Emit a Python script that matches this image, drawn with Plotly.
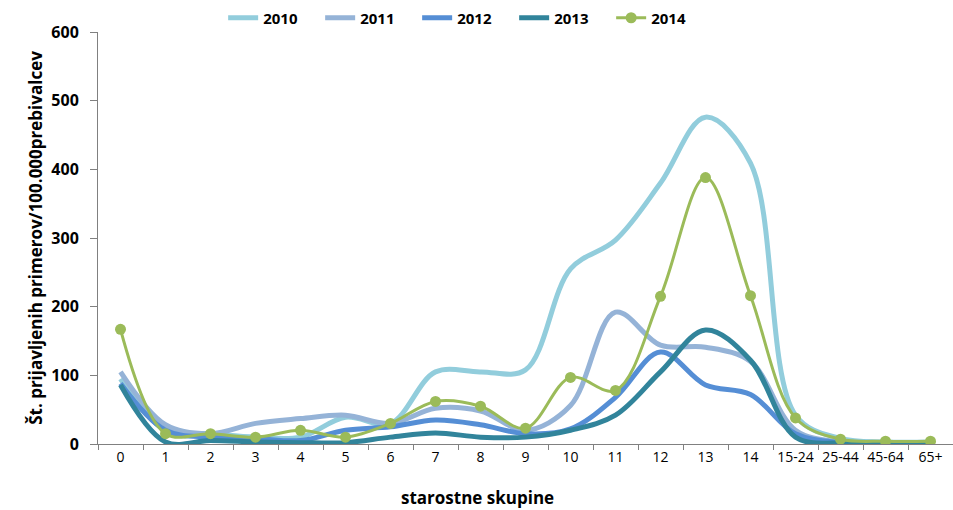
import plotly.graph_objects as go

AGE_GROUPS = ["0", "1", "2", "3", "4", "5", "6", "7", "8", "9", "10", "11", "12",
              "13", "14", "15-24", "25-44", "45-64", "65+"]

Y2010 = [95, 20, 15, 10, 10, 39, 30, 105, 105, 108, 255, 297, 380, 476, 409, 42, 8, 3, 3]
Y2011 = [105, 28, 15, 30, 37, 42, 30, 52, 48, 20, 56, 192, 144, 141, 120, 20, 3, 2, 2]
Y2012 = [88, 20, 10, 8, 5, 20, 25, 35, 28, 15, 22, 68, 134, 86, 72, 15, 2, 1, 1]
Y2013 = [86, 3, 5, 3, 2, 2, 10, 16, 10, 10, 20, 42, 105, 166, 122, 10, 1, 0, 0]
Y2014 = [167, 15, 15, 10, 20, 10, 30, 62, 55, 23, 97, 78, 215, 388, 216, 38, 7, 4, 4]

YEARS = ["2010", "2011", "2012", "2013", "2014"]
COLORS = ["#92CDDC", "#95B3D7", "#558ED5", "#31849B", "#9BBB59"]
FONT = "Open Sans, DejaVu Sans, sans-serif"

fig = go.Figure()
for name, ys, color in zip(YEARS, [Y2010, Y2011, Y2012, Y2013, Y2014], COLORS):
    is_last = name == "2014"
    fig.add_trace(go.Scatter(
        x=AGE_GROUPS,
        y=ys,
        name=name,
        mode="lines+markers" if is_last else "lines",
        line=dict(color=color, width=3 if is_last else 5, shape="spline", smoothing=1),
        marker=dict(color=color, size=11),
    ))

fig.update_layout(
    width=953, height=510,
    paper_bgcolor="white",
    plot_bgcolor="white",
    margin=dict(l=98, r=0, t=32, b=66),
    font=dict(family=FONT, color="#000000", size=14),
    showlegend=True,
    legend=dict(
        orientation="h",
        x=0.430, xanchor="center",
        y=1.034, yanchor="middle",
        font=dict(family=FONT, size=15, color="#000000", weight="bold"),
        entrywidth=52, entrywidthmode="pixels",
        bgcolor="rgba(0,0,0,0)",
    ),
    xaxis=dict(
        type="category",
        range=[-0.5, 18.5],
        showgrid=False,
        showline=True, linecolor="#808080", linewidth=1,
        ticks="outside", tickson="boundaries", ticklen=5, tickcolor="#808080",
        tickangle=0,
        tickfont=dict(family=FONT, size=14, color="#000000"),
        zeroline=False,
    ),
    yaxis=dict(
        range=[0, 600],
        dtick=100,
        showgrid=False,
        showline=True, linecolor="#808080", linewidth=1,
        ticks="outside", ticklen=7, tickcolor="#808080",
        ticklabelstandoff=8,
        tickfont=dict(family=FONT, size=16, color="#000000", weight="bold"),
        zeroline=False,
        title=dict(text="Št. prijavljenih primerov/100.000prebivalcev",
                   font=dict(family=FONT, size=17, color="#000000", weight="bold"),
                   standoff=4),
    ),
    annotations=[dict(
        text="starostne skupine", xref="paper", yref="paper",
        x=(477 - 98) / 855, y=-0.129, xanchor="center", yanchor="middle",
        showarrow=False,
        font=dict(family=FONT, size=17, color="#000000", weight="bold"),
    )],
)

# drop the default 8px body margin so the 953x510 figure fills the window
fig.write_html("out.html", config={"displayModeBar": False},
               post_script="document.body.style.margin='0';")
